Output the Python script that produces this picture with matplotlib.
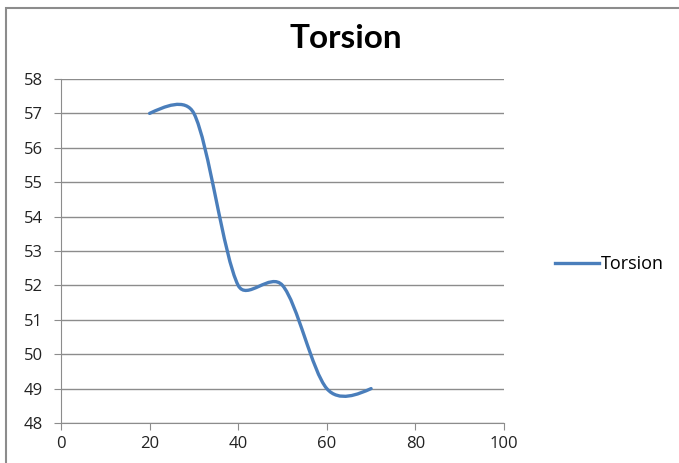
import numpy as np
import matplotlib.pyplot as plt
from matplotlib.path import Path
from matplotlib.patches import PathPatch, Rectangle
from matplotlib.lines import Line2D

# data
x_vals = [20, 30, 40, 50, 60, 70]
y_vals = [57, 57, 52, 52, 49, 49]
series_name = 'Torsion'
x_ticks = [0, 20, 40, 60, 80, 100]
y_ticks = [48, 49, 50, 51, 52, 53, 54, 55, 56, 57, 58]

plt.rcParams['font.family'] = ['Open Sans', 'DejaVu Sans']
line_col = '#4A7EBB'
grid_col = '#8C8C8C'


def smooth_path(xs, ys, sx, sy, k=1/6, clamp=0.42, end=0.4):
    # excel-like smoothing in screen space: tangent from the neighbours,
    # arm = |T|*k but not longer than a share of the segment it sits on
    pts = np.column_stack([xs, ys]).astype(float) * [sx, sy]
    n = len(pts)
    left = [None] * n
    right = [None] * n
    for i in range(1, n - 1):
        t = pts[i + 1] - pts[i - 1]
        u = t / np.hypot(*t)
        l0 = np.hypot(*(pts[i] - pts[i - 1]))
        l1 = np.hypot(*(pts[i + 1] - pts[i]))
        a = np.hypot(*t) * k
        left[i] = pts[i] - u * min(a, clamp * l0)
        right[i] = pts[i] + u * min(a, clamp * l1)
    right[0] = pts[0] + (left[1] - pts[0]) * end
    left[n - 1] = pts[n - 1] + (right[n - 2] - pts[n - 1]) * end
    verts = [pts[0]]
    codes = [Path.MOVETO]
    for i in range(n - 1):
        verts += [right[i], left[i + 1], pts[i + 1]]
        codes += [Path.CURVE4] * 3
    verts = np.array(verts) / [sx, sy]
    return Path(verts, codes)


fig = plt.figure(figsize=(6.79, 4.63), dpi=100)
ax = fig.add_axes([61/679, 1 - 423/463, (504 - 61)/679, (423 - 79)/463])

ax.set_xlim(0, 100)
ax.set_ylim(48, 58)
bb = ax.get_window_extent()
px_x = bb.width / 100
px_y = bb.height / 10

ax.add_patch(PathPatch(smooth_path(x_vals, y_vals, px_x, px_y), fill=False, edgecolor=line_col,
                       lw=2.4, capstyle='round', joinstyle='round', zorder=3))

ax.set_xticks(x_ticks)
ax.set_yticks(y_ticks)
ax.yaxis.grid(True, color=grid_col, lw=1)
ax.set_axisbelow(True)
for s in ['top', 'right']:
    ax.spines[s].set_visible(False)
for s in ['left', 'bottom']:
    ax.spines[s].set_color(grid_col)
ax.tick_params(axis='both', direction='out', length=5, color=grid_col,
               labelsize=12, labelcolor='#222222')
ax.tick_params(axis='y', pad=8)
ax.tick_params(axis='x', pad=4)

fig.text(346/679, 1 - 39/463, 'Torsion', ha='center', va='center',
         fontsize=24, fontweight='bold', family=['Lato', 'DejaVu Sans'])

# legend
handle = Line2D([], [], color=line_col, lw=2.4)
fig.legend([handle], [series_name], loc='center left', bbox_to_anchor=(539/679, 1 - 264/463),
           frameon=False, fontsize=13, handlelength=2.4, handletextpad=0.15)

# chart area border
fig.patches.append(Rectangle((6/679, -0.1), 1.2, 1 - 8/463 + 0.1, transform=fig.transFigure,
                             fill=False, edgecolor='#8C8C8C', lw=1.5))

fig.savefig('out.png', dpi=100)
